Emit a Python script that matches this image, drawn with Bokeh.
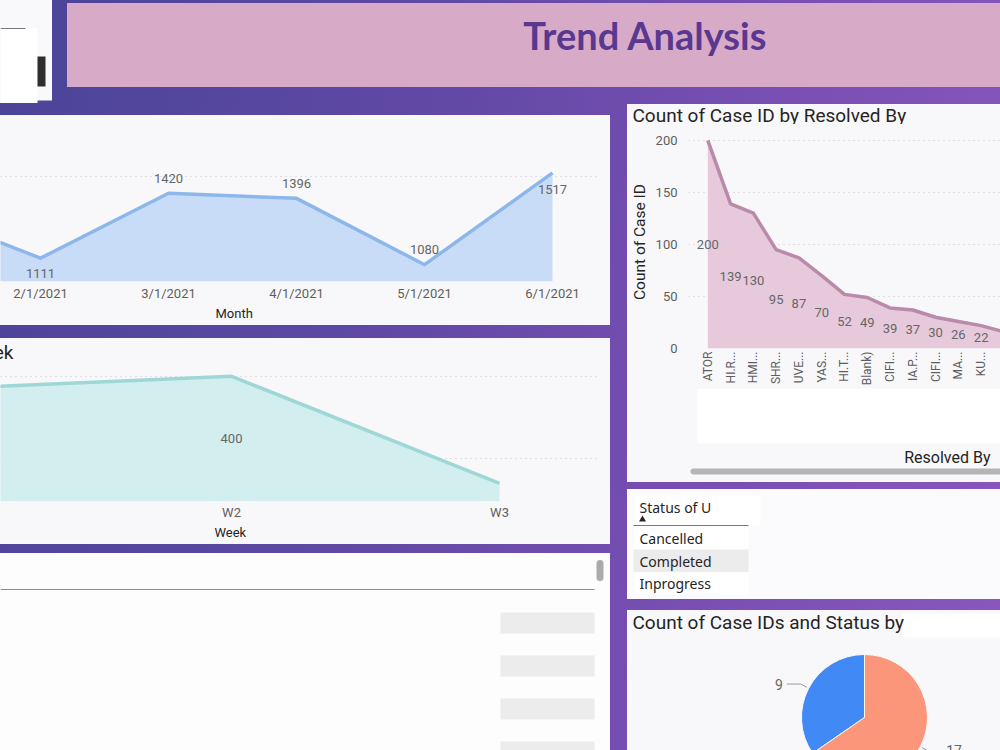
import math
from bokeh.plotting import figure
from bokeh.layouts import column, row
from bokeh.models import Range1d, FixedTicker, Label, Title
from bokeh.core.properties import value
from bokeh.embed import file_html
from bokeh.resources import INLINE

# ------------------------------------------------------------------ data
dashboard_title = "Trend Analysis"

months = ["1/1/2021", "2/1/2021", "3/1/2021", "4/1/2021", "5/1/2021", "6/1/2021"]
month_counts = [1350, 1111, 1420, 1396, 1080, 1517]
month_grid_ticks = [1000, 1500]

weeks = ["W1", "W2", "W3"]
week_counts = [372, 400, 140]
week_grid_ticks = [200, 400]
week_labeled = ["W2"]

resolved_by = ["ATOR", "HI.R...", "HMI...", "SHR...", "UVE...", "YAS...", "HI.T...",
               "Blank)", "CIFI...", "IA.P...", "CIFI...", "MA...", "KU...", "..."]
resolved_counts = [200, 139, 130, 95, 87, 70, 52, 49, 39, 37, 30, 26, 22, 16]
resolved_yticks = [0, 50, 100, 150, 200]
resolved_labels_shown = 13

statuses = ["Cancelled", "Completed", "Inprogress"]
status_selected = "Completed"

pie_counts = [9, 17]

# ------------------------------------------------------------------ styles
PANEL = "#f8f8fb"
GRID = "#c4c4cc"
VAL = "#666666"
TICK = "#605e5c"
DARK = "#252423"
FONT = "Roboto"
GRADIENT = "linear-gradient(100deg, #4a4497 0%, #5d48a3 35%, #7a4fb4 72%, #8a57bd 100%)"
month_label_dy = [-15, 15, -15, -15, -15, 17]
pie_colors = ["#418af6", "#fc967b"]


def base_kw(W, H, bg):
    return dict(width=W, height=H, output_backend="svg", toolbar_location=None,
                background_fill_color=bg, border_fill_color=bg, outline_line_color=None,
                frame_align=False, styles={"background-color": bg})


def chart_fig(W, H, FL, FR, FT, FB, xr, yr, bg=PANEL):
    return figure(x_range=Range1d(*xr), y_range=Range1d(*yr),
                  min_border_left=FL, min_border_right=W - FR,
                  min_border_top=FT, min_border_bottom=H - FB, **base_kw(W, H, bg))


def pix_fig(W, H, bg=PANEL):
    return figure(x_range=Range1d(0, W), y_range=Range1d(H, 0),
                  x_axis_type=None, y_axis_type=None, min_border=0, **base_kw(W, H, bg))


def add_label(p, x, y, text, size, color=DARK, align="left", baseline="middle",
              font=FONT, style="normal"):
    p.add_layout(Label(x=x, y=y, text=text, text_font=font, text_font_size=size,
                       text_color=color, text_align=align, text_baseline=baseline,
                       text_font_style=style))


def set_title(t, text, size, align, offset, standoff, color=DARK):
    t.text = text
    t.text_font = FONT
    t.text_font_size = size
    t.text_font_style = "normal"
    t.text_color = color
    t.align = align
    t.offset = offset
    t.standoff = standoff


def style_axis(ax, size="13px"):
    ax.axis_line_color = None
    ax.major_tick_line_color = None
    ax.minor_tick_line_color = None
    ax.major_tick_out = 0
    ax.major_tick_in = 0
    ax.minor_tick_out = 0
    ax.minor_tick_in = 0
    ax.major_label_text_font = FONT
    ax.major_label_text_font_size = size
    ax.major_label_text_color = TICK


def style_grid(g, ticks=None):
    g.grid_line_color = GRID
    g.grid_line_dash = "1 4"
    g.grid_line_width = 1
    if ticks is not None:
        g.ticker = FixedTicker(ticks=ticks)


# ------------------------------------------------------------------ top-left box
p_tl = pix_fig(52, 103, "#f9f9fc")
p_tl.quad(left=[0], right=[37], top=[28], bottom=[103], fill_color="#ffffff", line_color=None)
p_tl.quad(left=[37], right=[52], top=[100], bottom=[103], fill_color="#4e4699", line_color=None)
p_tl.line([0, 25], [28, 28], line_color="#7a7a7a", line_width=1)
p_tl.quad(left=[37], right=[45], top=[56], bottom=[86], fill_color="#2e2e2e", line_color=None)

# ------------------------------------------------------------------ banner
p_ban = pix_fig(933, 84, "#d7abc8")
add_label(p_ban, 578, 31, dashboard_title, "38px", color="#5a3890", align="center",
          font="Lato", style="bold")
p_ban.margin = (3, 0, 0, 15)

# ------------------------------------------------------------------ monthly area
FR1 = 599
p1 = chart_fig(610, 210, 0, FR1, 25, 166, (0.6875, 5.367), (1000, 1657))
mx = list(range(len(months)))
base1 = p1.y_range.start
p1.varea(x=mx, y1=[base1] * len(mx), y2=month_counts, fill_color="#c9dcf7")
p1.line(mx, month_counts, line_color="#8db7eb", line_width=3.5, line_join="round")
p1.text(x=mx, y=month_counts, text=[str(v) for v in month_counts], y_offset=month_label_dy,
        text_align="center", text_baseline="middle", text_font=value(FONT),
        text_font_size="13px", text_color=VAL)
p1.yaxis.visible = False
p1.xgrid.visible = False
style_grid(p1.ygrid, month_grid_ticks)
style_axis(p1.xaxis)
p1.xaxis.ticker = FixedTicker(ticks=mx)
p1.xaxis.major_label_overrides = {i: m for i, m in enumerate(months)}
p1.xaxis.major_label_standoff = 4
set_title(p1.title, "Count of Case ID by Month", "19px", "right", FR1 + 1, 3)
t1 = Title()
set_title(t1, "Month", "13px", "left", 215, 1)
p1.add_layout(t1, "below")
p1.margin = (12, 0, 0, 0)

# ------------------------------------------------------------------ weekly area
FR2 = 599
p2 = chart_fig(610, 206, 0, FR2, 24, 163, (0.138, 2.373), (96, 431))
wx = list(range(len(weeks)))
base2 = p2.y_range.start
p2.varea(x=wx, y1=[base2] * len(wx), y2=week_counts, fill_color="#d3eeef")
p2.line(wx, week_counts, line_color="#9fd7d6", line_width=3.5, line_join="round")
lw = [i for i, w in enumerate(weeks) if w in week_labeled]
p2.text(x=lw, y=[(week_counts[i] + base2) / 2 for i in lw],
        text=[str(week_counts[i]) for i in lw], text_align="center", text_baseline="middle",
        text_font=value(FONT), text_font_size="13px", text_color=VAL)
p2.yaxis.visible = False
p2.xgrid.visible = False
style_grid(p2.ygrid, week_grid_ticks)
style_axis(p2.xaxis)
p2.xaxis.ticker = FixedTicker(ticks=wx)
p2.xaxis.major_label_overrides = {i: w for i, w in enumerate(weeks)}
p2.xaxis.major_label_standoff = 3
set_title(p2.title, "Count of Case ID by Week", "19px", "right", FR2 - 13, 0)
t2 = Title()
set_title(t2, "Week", "13px", "left", 214, 1)
p2.add_layout(t2, "below")
p2.margin = (13, 0, 0, 0)

# ------------------------------------------------------------------ table panel
p3 = pix_fig(610, 197, "#fdfdfe")
p3.line([0, 594], [36, 36], line_color="#8a8a94", line_width=1)
p3.line([599.5, 599.5], [10, 24], line_color="#ababab", line_width=7, line_cap="round")
rows_i = list(range(4))
p3.quad(left=[500] * 4, right=[594] * 4, top=[59 + 43 * i for i in rows_i],
        bottom=[80 + 43 * i for i in rows_i], fill_color="#ececec", line_color=None)
p3.margin = (9, 0, 0, 0)

# ------------------------------------------------------------------ resolved by
p4t = pix_fig(373, 20)
add_label(p4t, 5, 11, "Count of Case ID by Resolved By", "19px")
p4t.margin = (1, 0, 0, 17)

FL4 = 61
p4 = chart_fig(373, 264, FL4, 373, 11, 225, (-0.847, 12.85), (0, 204.6))
rx = list(range(len(resolved_by)))
p4.varea(x=rx, y1=[0] * len(rx), y2=resolved_counts, fill_color="#e6cadc")
p4.line(rx, resolved_counts, line_color="#b98aa9", line_width=3.5, line_join="round")
p4.text(x=rx[:resolved_labels_shown],
        y=[v / 2 for v in resolved_counts[:resolved_labels_shown]],
        text=[str(v) for v in resolved_counts[:resolved_labels_shown]],
        text_align="center", text_baseline="middle", text_font=value(FONT),
        text_font_size="13px", text_color=VAL)
p4.xgrid.visible = False
style_grid(p4.ygrid)
style_axis(p4.yaxis)
p4.yaxis.ticker = FixedTicker(ticks=resolved_yticks)
p4.yaxis.major_label_standoff = 11
p4.yaxis.axis_label = "Count of Case ID"
p4.yaxis.axis_label_text_font = FONT
p4.yaxis.axis_label_text_font_size = "15.5px"
p4.yaxis.axis_label_text_font_style = "normal"
p4.yaxis.axis_label_text_color = DARK
p4.yaxis.axis_label_standoff = 4
style_axis(p4.xaxis, "12px")
p4.xaxis.ticker = FixedTicker(ticks=rx)
p4.xaxis.major_label_overrides = {i: s for i, s in enumerate(resolved_by)}
p4.xaxis.major_label_orientation = math.pi / 2
p4.xaxis.major_label_standoff = 3
p4.margin = (0, 0, 0, 17)

p4b = pix_fig(373, 94)
p4b.quad(left=[70], right=[373], top=[0], bottom=[55], fill_color="#ffffff", line_color=None)
add_label(p4b, 363, 69, "Resolved By", "16px", align="right")
p4b.line([66, 373], [83, 83], line_color="#b5b5b5", line_width=6, line_cap="round")
p4b.margin = (0, 0, 0, 17)

# ------------------------------------------------------------------ status slicer
p5 = pix_fig(373, 110, "#fbfbfd")
p5.quad(left=[6], right=[133], top=[6], bottom=[36], fill_color="#ffffff", line_color=None)
add_label(p5, 12, 18, "Status of U", "14px", font="Noto Sans")
p5.scatter([15], [30], marker="triangle", size=7, fill_color="#252423", line_color=None)
p5.line([6, 121], [36, 36], line_color="#7d7690", line_width=1)
si = list(range(len(statuses)))
sel = [i for i, s in enumerate(statuses) if s == status_selected]
p5.quad(left=[6] * len(statuses), right=[121] * len(statuses),
        top=[37.5 + 22.5 * i for i in si], bottom=[60 + 22.5 * i for i in si],
        fill_color="#ffffff", line_color=None)
p5.quad(left=[6] * len(sel), right=[121] * len(sel), top=[37.5 + 22.5 * i for i in sel],
        bottom=[60 + 22.5 * i for i in sel], fill_color="#ececec", line_color=None)
p5.text(x=[12] * len(statuses), y=[49 + 22.5 * i for i in si], text=statuses,
        text_align="left", text_baseline="middle", text_font=value("Noto Sans"),
        text_font_size="14px", text_color=DARK)
p5.margin = (7, 0, 0, 17)

# ------------------------------------------------------------------ pie
W6, H6, CX, CY, R = 373, 140, 237, 107, 63
p6 = figure(x_range=Range1d(-CX, W6 - CX), y_range=Range1d(CY - H6, CY),
            x_axis_type=None, y_axis_type=None, min_border=0, **base_kw(W6, H6, PANEL))
total = sum(pie_counts)
starts, ends = [], []
a = math.pi / 2
for v in pie_counts:
    starts.append(a)
    a += 2 * math.pi * v / total
    ends.append(a)
p6.wedge(x=[0] * len(pie_counts), y=[0] * len(pie_counts), radius=R, start_angle=starts,
         end_angle=ends, fill_color=pie_colors, line_color=PANEL, line_width=1)
for v, s, e in zip(pie_counts, starts, ends):
    m = (s + e) / 2
    c, sn = math.cos(m), math.sin(m)
    side = 1 if c >= 0 else -1
    x1, y1 = (R + 2) * c, (R + 2) * sn
    x2, y2 = (R + 9) * c, (R + 9) * sn
    x3 = x2 + side * 14
    p6.line([x1, x2, x3], [y1, y2, y2], line_color="#9a9a9a", line_width=1)
    p6.text(x=[x3 + side * 4], y=[y2], text=[str(v)], text_align="left" if side > 0 else "right",
            text_baseline="middle", text_font=value(FONT), text_font_size="14px",
            text_color=VAL)
p6.quad(left=[275 - CX], right=[W6 - CX], top=[CY - 3], bottom=[CY - 27],
        fill_color="#ffffff", line_color=None)
add_label(p6, 5 - CX, CY - 12, "Count of Case IDs and Status by", "19px")
p6.margin = (11, 0, 0, 17)

# ------------------------------------------------------------------ layout
top = row(p_tl, p_ban)
left = column(p1, p2, p3)
right = column(p4t, p4, p4b, p5, p6)
body = row(left, right)
root = column(top, body, styles={"background": GRADIENT})

open("out.html", "w").write(file_html(root, INLINE))
